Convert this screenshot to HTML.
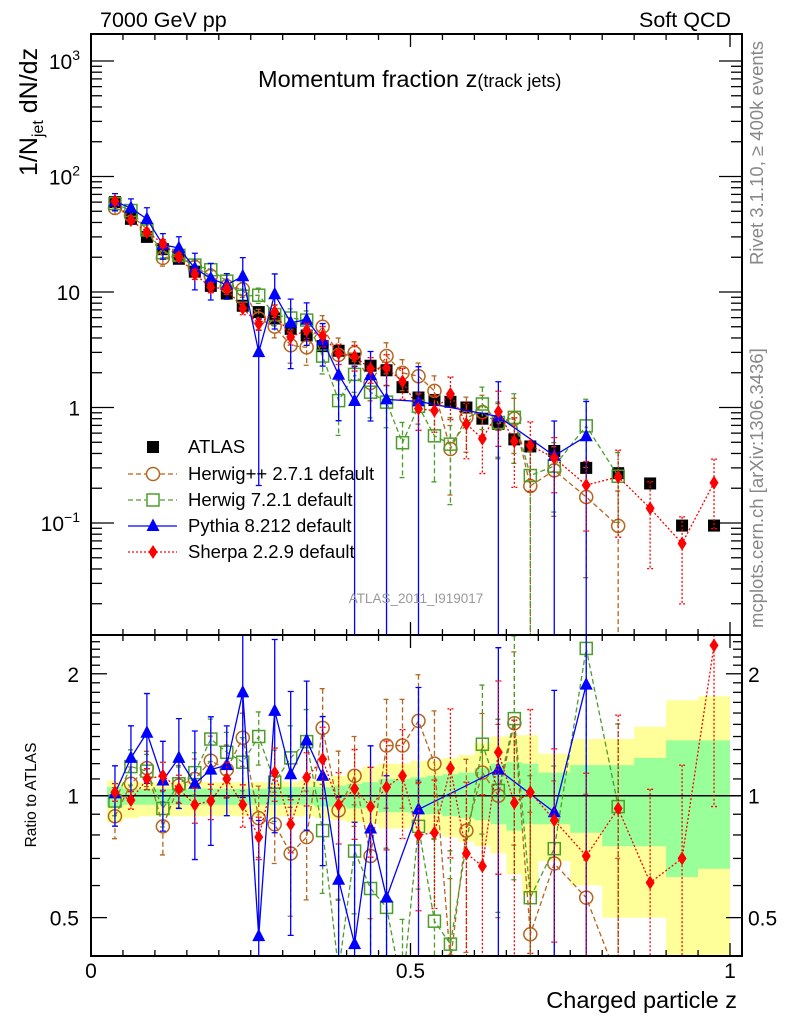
<!DOCTYPE html>
<html><head><meta charset="utf-8"><style>
html,body{margin:0;padding:0;background:#fff;overflow:hidden;width:786px;height:1024px;}
svg{display:block;font-family:"Liberation Sans",sans-serif;overflow:hidden;}
</style></head><body>
<svg id="c" width="786" height="1024" viewBox="0 0 786 1024" xmlns="http://www.w3.org/2000/svg">
<defs>
<clipPath id="clipMain"><rect x="91" y="34" width="651" height="601"/></clipPath>
<clipPath id="clipRatio"><rect x="91" y="635" width="651" height="321"/></clipPath>
</defs>
<g id="bands" clip-path="url(#clipRatio)"></g>
<g id="marksMain" clip-path="url(#clipMain)"></g>
<g id="marksRatio" clip-path="url(#clipRatio)"></g>
<g id="axes"></g>
<text x="100" y="27" font-size="21.5">7000 GeV pp</text>
<text x="731" y="27" font-size="21.5" text-anchor="end">Soft QCD</text>
<text x="258" y="87" font-size="23.5">Momentum fraction z<tspan font-size="18">(track jets)</tspan></text>
<text transform="translate(37,176) rotate(-90)" font-size="25">1/N<tspan font-size="16" dy="6">jet</tspan><tspan dy="-6"> dN/dz</tspan></text>
<text transform="translate(36,795) rotate(-90)" font-size="15.5" text-anchor="middle">Ratio to ATLAS</text>
<text x="737" y="1008" font-size="23.5" text-anchor="end">Charged particle z</text>
<text transform="translate(763,265) rotate(-90)" font-size="18.5" fill="#888">Rivet 3.1.10, ≥ 400k events</text>
<text transform="translate(763,628) rotate(-90)" font-size="18.5" fill="#888">mcplots.cern.ch [arXiv:1306.3436]</text>
<text x="416" y="603" font-size="13.5" fill="#999" text-anchor="middle">ATLAS_2011_I919017</text>
<g id="legend"></g>
</svg>
<script>
// ---- data ----
const zCenters = [0.0375,0.0625,0.0875,0.1125,0.1375,0.1625,0.1875,0.2125,0.2375,0.2625,0.2875,0.3125,0.3375,0.3625,0.3875,0.4125,0.4375,0.4625,0.4875,0.5125,0.5375,0.5625,0.5875,0.6125,0.6375,0.6625,0.6875,0.725,0.775,0.825,0.875,0.925,0.975];
const zWidths = [0.025,0.025,0.025,0.025,0.025,0.025,0.025,0.025,0.025,0.025,0.025,0.025,0.025,0.025,0.025,0.025,0.025,0.025,0.025,0.025,0.025,0.025,0.025,0.025,0.025,0.025,0.025,0.05,0.05,0.05,0.05,0.05,0.05];
const atlasValues = [60,43,30,23.5,19.4,15,11.3,9.7,7.6,6.7,5.9,4.8,4.2,3.4,3.1,2.65,2.3,2.1,1.5,1.22,1.16,1.12,1.0,0.8,0.72,0.53,0.46,0.42,0.30,0.27,0.22,0.095,0.095];
const totHi = [1.09,1.08,1.08,1.08,1.08,1.08,1.08,1.08,1.08,1.08,1.08,1.08,1.09,1.10,1.12,1.15,1.18,1.2,1.2,1.22,1.22,1.24,1.26,1.35,1.40,1.41,1.41,1.27,1.38,1.38,1.48,1.72,1.76];
const totLo = [0.86,0.88,0.89,0.89,0.89,0.89,0.89,0.89,0.89,0.89,0.89,0.89,0.89,0.88,0.87,0.86,0.85,0.83,0.83,0.82,0.81,0.79,0.77,0.75,0.72,0.64,0.57,0.69,0.60,0.50,0.50,0.40,0.40];
const statHi = [1.05,1.04,1.04,1.04,1.04,1.04,1.04,1.04,1.04,1.04,1.05,1.05,1.05,1.05,1.06,1.07,1.08,1.1,1.1,1.11,1.12,1.13,1.14,1.17,1.2,1.21,1.20,1.14,1.19,1.19,1.24,1.37,1.37];
const statLo = [0.94,0.95,0.95,0.95,0.95,0.95,0.95,0.95,0.95,0.95,0.95,0.95,0.95,0.94,0.94,0.93,0.93,0.91,0.91,0.9,0.9,0.89,0.88,0.87,0.85,0.82,0.85,0.85,0.81,0.75,0.75,0.63,0.66];
const herwigppRatio = [0.89,1.07,1.17,0.84,1.06,1.10,1.22,1.16,1.39,0.88,0.85,0.72,0.79,1.47,0.92,1.12,0.71,1.33,1.33,1.53,1.20,0.39,0.82,1.14,1.0,1.51,0.455,0.68,0.56,0.35,null,null,null];
const herwigppErr = [0.12,0.1,0.1,0.15,0.12,0.12,0.15,0.15,0.15,0.2,0.2,0.3,0.3,0.25,0.4,0.25,0.3,0.3,0.3,0.3,0.35,0.6,0.5,0.4,0.5,0.5,1,0.6,0.8,1,0,0,0];
const herwig7Ratio = [0.97,1.18,1.15,0.93,1.07,1.14,1.38,1.28,1.21,1.40,1.08,1.24,1.36,0.82,0.37,0.73,0.59,0.53,0.33,0.84,0.49,0.43,null,1.34,1.03,1.55,0.56,0.74,2.31,0.94,null,null,null];
const herwig7Err = [0.08,0.1,0.1,0.1,0.1,0.12,0.12,0.12,0.15,0.15,0.2,0.2,0.2,0.3,0.5,0.3,0.4,0.4,0.5,0.3,0.6,0.7,0,0.4,0.5,0.6,1,0.6,0.7,0.6,0,0,0];
const pythiaRatio = [1.013,1.24,1.43,1.09,1.24,1.07,1.16,1.19,1.80,0.45,1.62,1.13,1.37,1.12,0.62,0.43,0.83,0.56,null,0.925,null,null,null,null,1.16,null,null,0.91,1.88,null,null,null,null];
const pythiaErr = [0.17,0.2,0.25,0.25,0.25,0.35,0.35,0.25,0.45,0.93,0.5,0.6,0.4,0.4,0.6,1,0.6,1,0,1,0,0,0,0,1,0,0,1,1,0,0,0,0];
const sherpaRatio = [1.02,0.975,1.10,1.12,1.04,0.95,0.97,1.10,0.95,0.79,1.14,0.85,1.11,1.23,0.95,1.04,0.94,1.05,1.12,0.80,0.81,1.17,0.72,0.67,1.28,0.96,1.02,0.87,0.71,0.93,0.61,0.70,2.35];
const sherpaErr = [0.05,0.05,0.06,0.08,0.08,0.1,0.1,0.1,0.12,0.12,0.15,0.15,0.15,0.2,0.2,0.25,0.25,0.3,0.3,0.35,0.35,0.4,0.5,0.5,0.5,0.6,0.6,0.5,0.6,0.7,0.7,0.7,0.6];
const mainTickLabels = ["1","10","10²","10³"];
const ratioTickValues = [0.5,1,2];
const ratioTickLabels = ["0.5","1","2"];
const xTickValues = [0,0.5,1];
const xTickLabels = ["0","0.5","1"];

// ---- scales ----
const NS="http://www.w3.org/2000/svg";
const X0=91, XPU=639, RIGHT=742, TOP=34, MID=635, BOT=956;
function xs(z){return X0+z*XPU;}
function ym(v){return 407.5-115.5*Math.log10(v);}
function yr(r){return 795.7-405*Math.log10(r);}
function mk(tag,attrs,parent){const e=document.createElementNS(NS,tag);for(const k in attrs)e.setAttribute(k,attrs[k]);parent.appendChild(e);return e;}
const gMain=document.getElementById('marksMain'), gRatio=document.getElementById('marksRatio'), gBands=document.getElementById('bands'), gAx=document.getElementById('axes'), gLeg=document.getElementById('legend');

function band(lo,hi,col,nm){
  let top='',bot='';
  zCenters.forEach((z,i)=>{const a=xs(z-zWidths[i]/2),b=xs(z+zWidths[i]/2);
    top+=(i?'L':'M')+a+','+yr(hi[i])+'L'+b+','+yr(hi[i]);});
  for(let i=zCenters.length-1;i>=0;i--){const a=xs(zCenters[i]-zWidths[i]/2),b=xs(zCenters[i]+zWidths[i]/2);
    bot+='L'+b+','+yr(Math.max(lo[i],0.3))+'L'+a+','+yr(Math.max(lo[i],0.3));}
  const p=mk('path',{d:top+bot+'Z',fill:col},gBands);
  
  
}
band(totLo,totHi,'#ffff99','total-uncertainty-band');
band(statLo,statHi,'#99ff99','stat-uncertainty-band');
const unity=mk('line',{x1:X0,x2:RIGHT,y1:yr(1),y2:yr(1),stroke:'#000','stroke-width':1.5},gRatio);



function marker(type,x,y,col,parent){
  let e;
  if(type==='square') e=mk('rect',{x:x-6,y:y-6,width:12,height:12,fill:'#000'},parent);
  else if(type==='circle') e=mk('circle',{cx:x,cy:y,r:6.5,fill:'none',stroke:col,'stroke-width':1.5},parent);
  else if(type==='osquare') e=mk('rect',{x:x-6,y:y-6,width:12,height:12,fill:'none',stroke:col,'stroke-width':1.5},parent);
  else if(type==='tri') e=mk('path',{d:`M${x},${y-7.5}L${x+6.5},${y+5}L${x-6.5},${y+5}Z`,fill:col},parent);
  else e=mk('path',{d:`M${x},${y-7}L${x+4.5},${y}L${x},${y+7}L${x-4.5},${y}Z`,fill:col},parent);
  return e;
}
const series=[
 {name:'herwigpp',ratio:herwigppRatio,err:herwigppErr,col:'#b5651d',dash:'5,3',m:'circle'},
 {name:'herwig7',ratio:herwig7Ratio,err:herwig7Err,col:'#4c9e2a',dash:'5,3',m:'osquare'},
 {name:'pythia',ratio:pythiaRatio,err:pythiaErr,col:'#0000ff',dash:'',m:'tri'},
 {name:'sherpa',ratio:sherpaRatio,err:sherpaErr,col:'#ff0000',dash:'2,2',m:'diamond'}
];
zCenters.forEach((z,i)=>{
  const s=marker('square',xs(z),ym(atlasValues[i]),'#000',gMain);
  
  
});
function drawSeries(s,panel){
  const g=panel==='main'?gMain:gRatio;
  const val=i=>panel==='main'?s.ratio[i]*atlasValues[i]:s.ratio[i];
  const yf=panel==='main'?ym:yr;
  const ybot=panel==='main'?MID+5:BOT+5;
  let d='';
  zCenters.forEach((z,i)=>{if(s.ratio[i]==null)return;d+=(d?'L':'M')+xs(z)+','+yf(val(i));});
  const ln=mk('path',{d:d,fill:'none',stroke:s.col,'stroke-width':1.3,'stroke-dasharray':s.dash},g);
  
  
  zCenters.forEach((z,i)=>{
    if(s.ratio[i]==null)return;
    const v=val(i), x=xs(z);
    const hi=v*(1+s.err[i]), lo=v*(1-s.err[i]);
    const y1=yf(hi), y2=lo>0?Math.min(yf(lo),ybot):ybot;
    const eb=mk('path',{d:`M${x},${y1}L${x},${y2}M${x-3},${y1}L${x+3},${y1}`+(lo>0?`M${x-3},${y2}L${x+3},${y2}`:''),stroke:s.col,'stroke-width':1.3,'stroke-dasharray':s.dash,fill:'none'},g);
    
    
    const m=marker(s.m,x,yf(v),s.col,g);
    
    
  });
}
series.forEach(s=>{drawSeries(s,'main');drawSeries(s,'ratio');});

[[TOP,MID],[MID,BOT]].forEach(([a,b],k)=>{
  const f=mk('rect',{x:X0,y:a,width:RIGHT-X0,height:b-a,fill:'none',stroke:'#000','stroke-width':2},gAx);
  
  
  for(let j=0;j<=20;j++){const z=j*0.05,x=xs(z),L=(j%10===0)?13:6;
    mk('line',{x1:x,x2:x,y1:a,y2:a+L,stroke:'#000','stroke-width':1.3},gAx);
    mk('line',{x1:x,x2:x,y1:b,y2:b-L,stroke:'#000','stroke-width':1.3},gAx);}
});
for(let e=-2;e<=3;e++){for(let m=1;m<=9;m++){const v=m*Math.pow(10,e);const y=ym(v);
  if(y<TOP||y>MID)continue;const L=m===1?23:11;
  mk('line',{x1:X0,x2:X0+L,y1:y,y2:y,stroke:'#000','stroke-width':1.3},gAx);
  mk('line',{x1:RIGHT,x2:RIGHT-L,y1:y,y2:y,stroke:'#000','stroke-width':1.3},gAx);}}
mainTickLabels.forEach((t,i)=>{
  const tx=mk('text',{x:80,y:ym(Math.pow(10,i))+8,'font-size':21,'text-anchor':'end'},gAx);
  
  
  if(i>=2){tx.textContent='10';const sp=mk('tspan',{'font-size':14,dy:-9},tx);sp.textContent=String(i);}
  else tx.textContent=t;
});
{const tx=mk('text',{x:80,y:ym(0.1)+8,'font-size':21,'text-anchor':'end'},gAx);
 
 
 tx.textContent='10';const sp=mk('tspan',{'font-size':14,dy:-9},tx);sp.textContent='−1';}
for(let k=4;k<=25;k++){const r=k/10;const y=yr(r);if(y<MID||y>BOT)continue;
  const L=(k===5||k===10||k===20)?16:9;
  mk('line',{x1:X0,x2:X0+L,y1:y,y2:y,stroke:'#000','stroke-width':1.3},gAx);
  mk('line',{x1:RIGHT,x2:RIGHT-L,y1:y,y2:y,stroke:'#000','stroke-width':1.3},gAx);}
ratioTickValues.forEach((v,i)=>{
  const a=mk('text',{x:79,y:yr(v)+8,'font-size':21,'text-anchor':'end'},gAx);a.textContent=ratioTickLabels[i];
  
  
  const b=mk('text',{x:748,y:yr(v)+8,'font-size':21},gAx);b.textContent=ratioTickLabels[i];
  
  
});
xTickValues.forEach((v,i)=>{
  const t=mk('text',{x:xs(v),y:978,'font-size':21,'text-anchor':'middle'},gAx);t.textContent=xTickLabels[i];
  
  
});
const legNames=['ATLAS','Herwig++ 2.7.1 default','Herwig 7.2.1 default','Pythia 8.212 default','Sherpa 2.2.9 default'];
const legY=[447,474,500,526,552];
legNames.forEach((n,i)=>{
  const g=mk('g',{},gLeg);
  
  
  const y=legY[i];
  if(i===0){marker('square',153,y,'#000',g);}
  else{const s=series[i-1];
    mk('line',{x1:128,x2:177,y1:y,y2:y,stroke:s.col,'stroke-width':1.3,'stroke-dasharray':s.dash},g);
    if(s.m==='circle'||s.m==='osquare')mk('rect',{x:146,y:y-7,width:14,height:14,fill:'#fff'},g);
    marker(s.m,153,y,s.col,g);}
  const t=mk('text',{x:188,y:y+6,'font-size':18.5},g);t.textContent=n;
});
</script>
</body></html>
